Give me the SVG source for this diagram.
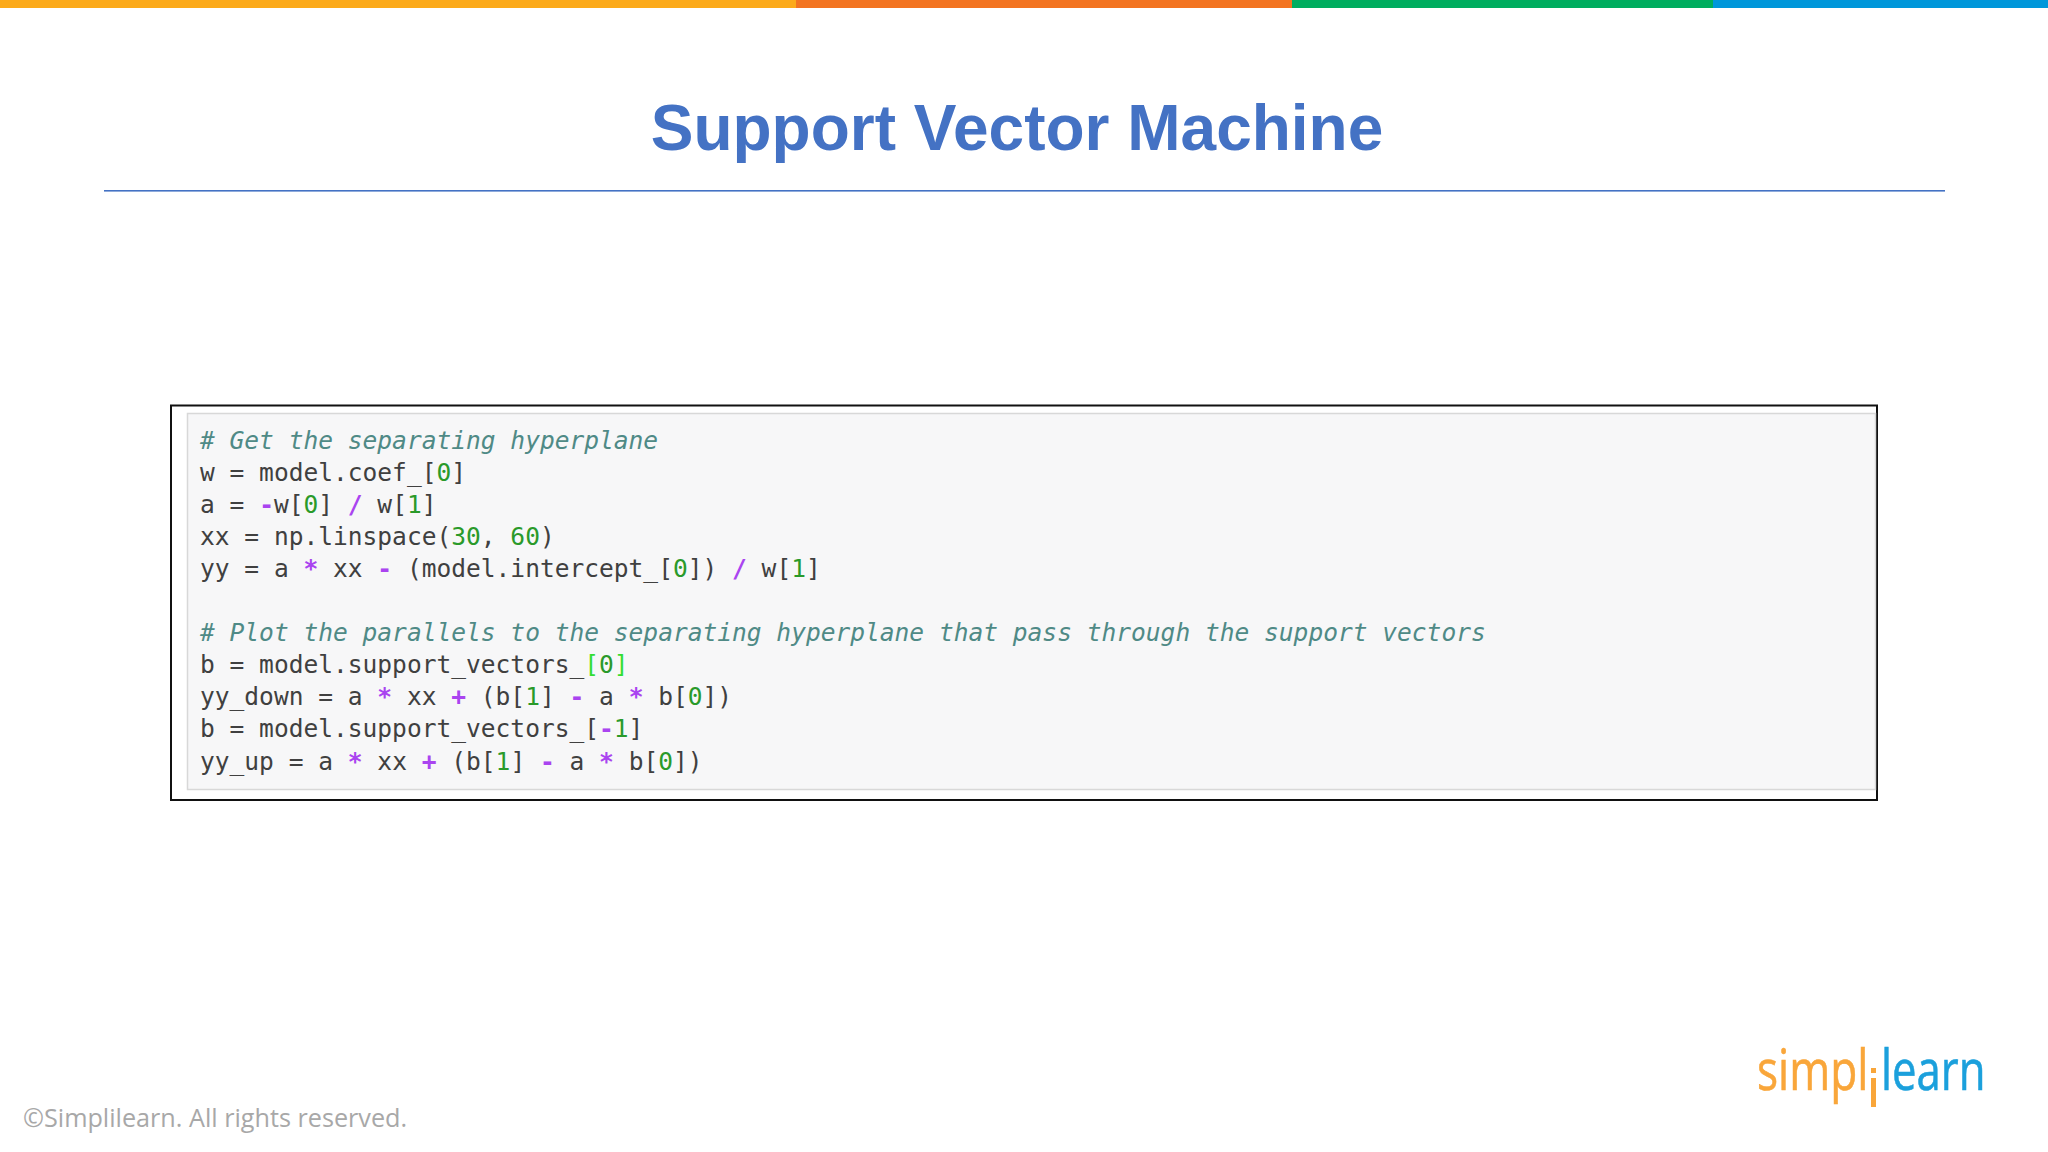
<svg xmlns="http://www.w3.org/2000/svg" width="2048" height="1152" viewBox="0 0 2048 1152">
<style>
.code{font-family:"DejaVu Sans Mono",monospace;font-size:24.55px;fill:#404040;white-space:pre}
.c{fill:#4f8a86;font-style:italic}
.n{fill:#2a9a2a}
.o{fill:#aa44f0;font-weight:bold}
.g{fill:#33dd33}
</style>
<rect width="2048" height="1152" fill="#ffffff"/>
<g id="topbar">
<rect x="0" y="0" width="796" height="8" fill="#fcaa1a"/>
<rect x="796" y="0" width="496" height="8" fill="#f37421"/>
<rect x="1292" y="0" width="421" height="8" fill="#00ad5f"/>
<rect x="1713" y="0" width="335" height="8" fill="#0097da"/>
</g>
<g id="title">
<text x="1017" y="150" text-anchor="middle" font-family="Liberation Sans, Arial, sans-serif" font-weight="bold" font-size="64" fill="#4472c4">Support Vector Machine</text>
<rect x="104" y="190" width="1841" height="1.6" fill="#4472c4"/>
</g>
<g id="code-block">
<rect x="171" y="405.500" width="1706" height="394.500" fill="#ffffff" stroke="#111111" stroke-width="2"/>
<rect x="187.500" y="413.500" width="1688" height="376" fill="#f7f7f8" stroke="#d8d8d8" stroke-width="1.500"/>
<text class="code" x="200" y="449"><tspan class="c"># Get the separating hyperplane</tspan></text>
<text class="code" x="200" y="481">w = model.coef_[<tspan class="n">0</tspan>]</text>
<text class="code" x="200" y="513">a = <tspan class="o">-</tspan>w[<tspan class="n">0</tspan>] <tspan class="o">/</tspan> w[<tspan class="n">1</tspan>]</text>
<text class="code" x="200" y="545">xx = np.linspace(<tspan class="n">30</tspan>, <tspan class="n">60</tspan>)</text>
<text class="code" x="200" y="577">yy = a <tspan class="o">*</tspan> xx <tspan class="o">-</tspan> (model.intercept_[<tspan class="n">0</tspan>]) <tspan class="o">/</tspan> w[<tspan class="n">1</tspan>]</text>
<text class="code" x="200" y="641"><tspan class="c"># Plot the parallels to the separating hyperplane that pass through the support vectors</tspan></text>
<text class="code" x="200" y="673">b = model.support_vectors_<tspan class="g">[</tspan><tspan class="n">0</tspan><tspan class="g">]</tspan></text>
<text class="code" x="200" y="705">yy_down = a <tspan class="o">*</tspan> xx <tspan class="o">+</tspan> (b[<tspan class="n">1</tspan>] <tspan class="o">-</tspan> a <tspan class="o">*</tspan> b[<tspan class="n">0</tspan>])</text>
<text class="code" x="200" y="737">b = model.support_vectors_[<tspan class="o">-</tspan><tspan class="n">1</tspan>]</text>
<text class="code" x="200" y="769.500">yy_up = a <tspan class="o">*</tspan> xx <tspan class="o">+</tspan> (b[<tspan class="n">1</tspan>] <tspan class="o">-</tspan> a <tspan class="o">*</tspan> b[<tspan class="n">0</tspan>])</text>
</g>
<g id="footer">
<text x="23" y="1127" font-family="Open Sans, sans-serif" font-size="25.200" fill="#a8a8a8">©Simplilearn. All rights reserved.</text>
</g>
<g id="logo" font-family="Open Sans, sans-serif" font-size="56" stroke-width="0.600">
<text transform="translate(1757 1090) scale(.79 1)" fill="#f9a63a" stroke="#f9a63a">simpl</text>
<rect x="1871" y="1068" width="5" height="5" fill="#f9a63a"/>
<rect x="1871" y="1078" width="5" height="29" fill="#f9a63a"/>
<text transform="translate(1881 1090) scale(.78 1)" fill="#1ba0dc" stroke="#1ba0dc">learn</text>
</g>
</svg>
